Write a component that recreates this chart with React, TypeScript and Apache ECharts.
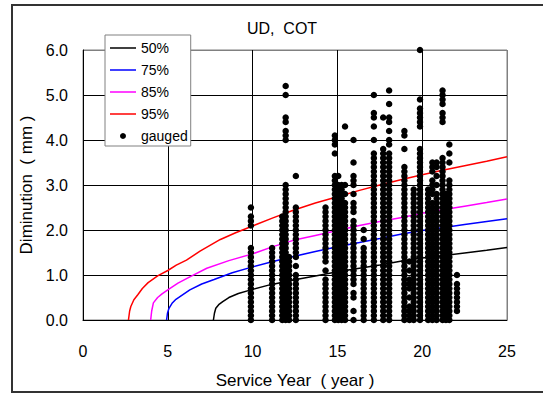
import React, { useEffect, useRef } from "react";
import * as echarts from "echarts";

const FONT = "'Liberation Sans', Arial, sans-serif";

const titleText = "UD,  COT";
const xName = "Service Year  ( year )";
const yName = "Diminution  ( mm )";
const legendNames = ["50%", "75%", "85%", "95%", "gauged"];
const lineColors = ["#000000", "#0000FF", "#FF00FF", "#FF0000"];

// percentile curves: [year, mm]
const curve50 = [[7.69,0],[7.75,0.15],[7.83,0.26],[8.0,0.34],[8.24,0.41],[8.6,0.5],[9.16,0.59],[10,0.68],[11,0.78],[12.4,0.89],[13.7,0.98],[15,1.07],[16.3,1.15],[17.5,1.22],[18.8,1.31],[20,1.38],[21.2,1.43],[22.5,1.49],[23.8,1.55],[25,1.61]];
const curve75 = [[4.93,0],[4.98,0.15],[5.07,0.26],[5.25,0.37],[5.48,0.46],[6.3,0.67],[7.0,0.8],[7.73,0.9],[8.8,1.05],[10,1.18],[11.2,1.3],[12.4,1.41],[13.7,1.52],[15,1.63],[16.3,1.72],[17.5,1.81],[18.8,1.91],[20,1.99],[21.2,2.05],[22.5,2.12],[23.8,2.19],[25,2.25]];
const curve85 = [[3.99,0],[4.05,0.2],[4.15,0.38],[4.4,0.5],[4.66,0.58],[5,0.67],[5.6,0.82],[6.3,0.96],[7.3,1.15],[8.6,1.32],[10,1.47],[11.2,1.63],[12.4,1.77],[13.7,1.88],[15,1.99],[16.3,2.1],[17.5,2.19],[18.8,2.28],[20,2.37],[21.2,2.45],[22.5,2.53],[23.8,2.61],[25,2.69]];
const curve95 = [[2.68,0],[2.75,0.2],[2.82,0.3],[3.0,0.45],[3.23,0.56],[3.5,0.7],[3.84,0.83],[4.4,0.98],[5,1.1],[5.5,1.22],[6.1,1.33],[6.9,1.53],[8.1,1.79],[9,1.94],[10,2.09],[11.2,2.27],[12.4,2.44],[13.7,2.6],[15,2.74],[16.3,2.88],[17.5,3.0],[18.8,3.12],[20,3.23],[21.2,3.33],[22.5,3.43],[23.8,3.53],[25,3.63]];

// gauged readings: column year and readings in tenths of a mm
const gaugedYears = [9.9, 11.15, 11.75, 11.95, 12.15, 12.55, 14.3, 14.85, 15.05, 15.25, 15.45, 15.95, 16.55, 17.15, 17.7, 18.05, 18.95, 19.25, 19.5, 19.87, 20.35, 20.6, 20.85, 21.2, 21.4, 21.6, 22.05];
const gaugedTenths = [
  [25,23,22,21,16,15,14,13,12,11,10,9,8,7,6,5,4,3,2,1,0],
  [16,15,14,13,12,11,10,9,8,7,6,5,4,3,2,1,0],
  [23,22,21,20,19,18,17,16,15,14,13,12,11,10,9,8,7,6,5,4,3,2,1,0],
  [52,50,45,44,42,41,40,30,29,28,27,26,25,24,23,22,21,20,19,18,17,16,15,14,13,12,11,10,9,8,7,6,5,4,3,2,1,0],
  [14,13,12,11,10,9,8,7,6,5,4,3,2,1,0],
  [32,25,24,23,22,21,20,19,18,17,16,15,14,12,10,9,8,7,6,5,4,3,2,1,0],
  [25,24,23,22,21,20,19,18,17,16,15,14,13,11,9,8,7,6,5,4,3,2,1,0],
  [41,40,39,37,32,31,30,29,28,27,26,25,24,23,22,21,20,19,18,17,16,15,14,13,12,11,10,9,8,7,6,5,4,3,2,1,0],
  [32,30,29,28,27,26,25,24,23,22,21,20,19,18,17,16,15,14,13,12,11,10,9,8,7,6,5,4,3,2,1,0],
  [30,29,28,27,26,25,24,23,22,21,20,19,18,17,16,15,14,13,12,11,10,9,8,7,6,5,4,3,2,1,0],
  [43,30,28,26,25,24,23,22,21,20,19,18,17,16,15,14,13,12,11,10,9,8,7,6,5,4,3,2,1,0],
  [40,35,32,31,30,28,26,25,24,22,21,20,19,18,17,16,15,14,13,12,11,10,9,8,6,5,2,0],
  [20,18,16,15,14,13,12,11,10,9,8,7,6,5,4,3,2,1,0],
  [50,46,45,43,40,37,36,35,34,33,32,31,30,29,28,27,26,25,24,23,22,21,20,19,18,17,16,15,14,13,12,11,10,9,8,7,6,5,4,3,2,1,0],
  [45,38,37,36,35,34,33,32,31,30,29,28,27,26,25,24,23,22,21,20,19,18,17,16,15,14,13,12,11,10,9,8,7,6,5,4,3,2,1,0],
  [51,48,45,44,42,40,39,37,36,35,34,33,32,31,30,29,28,27,26,25,24,23,22,21,20,19,18,17,16,15,14,13,12,11,10,9,8,7,6,5,4,3,2,1,0],
  [42,41,38,34,33,32,31,30,29,28,27,26,25,24,23,22,21,20,19,18,17,16,15,14,13,12,11,10,9,8,7,6,5,4,3,2,1,0],
  [13,11,9,8,7,5,3,2,1,0],
  [29,28,27,26,25,24,23,22,21,20,19,18,17,16,15,14,13,12,11,10,9,8,7,6,5,4,3,2,1,0],
  [60,49,47,46,45,44,43,38,37,36,35,34,33,32,31,30,29,28,27,26,25,24,23,22,21,20,19,18,17,16,15,14,13,12,11,10,9,8,7,6,5,4,3,2,1,0],
  [29,28,27,26,25,24,23,22,21,20,19,18,17,16,15,14,13,12,11,10,9,8,7,6,5,4,3,2,1,0],
  [35,34,33,31,30,29,28,26,25,24,23,22,21,20,19,18,17,16,15,14,13,12,11,10,9,8,7,6,5,4,3,2,1,0],
  [35,34,32,30,28,27,26,25,24,23,22,21,20,19,18,17,16,15,14,13,12,11,10,9,8,7,6,5,4,3,2,1,0],
  [51,50,49,48,46,45,44,36,35,34,33,32,31,30,29,28,27,26,25,24,23,22,21,20,19,18,17,16,15,14,13,12,11,10,9,8,7,6,5,4,3,2,1,0],
  [28,27,26,25,24,23,22,21,20,19,18,17,16,15,14,13,12,11,10,9,8,7,6,5,4,3,2,1,0],
  [39,37,35,31,30,29,28,27,26,25,24,23,22,21,20,19,18,17,16,15,14,13,12,11,10,9,8,7,6,5,4,3,2,1,0],
  [10,8,7,6,5,4,3,2],
];

const LINE_ICON = "path://M0,0 H52 V3 H0 Z";

export default function App() {
  const ref = useRef<HTMLDivElement>(null);
  useEffect(() => {
    document.body.style.margin = "0";
    const chart = echarts.init(ref.current!, null, { renderer: "svg" });
    const gauged: number[][] = [];
    gaugedYears.forEach((x, i) => {
      gaugedTenths[i].forEach((t) => gauged.push([x, t / 10]));
    });
    const curves = [curve50, curve75, curve85, curve95];
    const lineSeries = curves.map((c, i) => ({
      name: legendNames[i],
      type: "line",
      data: c,
      symbol: "none",
      showSymbol: false,
      smooth: false,
      z: 2,
      lineStyle: { color: lineColors[i], width: 1.5 },
      itemStyle: { color: lineColors[i] },
    }));
    chart.setOption({
      animation: false,
      textStyle: { fontFamily: FONT },
      title: {
        text: titleText,
        left: 282,
        top: 20,
        textAlign: "center",
        padding: 0,
        textStyle: { fontSize: 16, fontWeight: "normal", color: "#000", fontFamily: FONT },
      },
      grid: {
        left: 83, right: 36, top: 50, bottom: 74,
        show: true, borderColor: "#808080", borderWidth: 1, backgroundColor: "transparent",
      },
      legend: {
        orient: "vertical",
        left: 105,
        top: 35,
        padding: [6, 3, 3, 5],
        itemWidth: 26,
        itemHeight: 6,
        itemGap: 8,
        backgroundColor: "#fff",
        borderColor: "#808080",
        borderWidth: 1,
        textStyle: { fontSize: 14, color: "#000", fontFamily: FONT },
        data: [
          { name: "50%", icon: LINE_ICON, itemStyle: { color: lineColors[0] } },
          { name: "75%", icon: LINE_ICON, itemStyle: { color: lineColors[1] } },
          { name: "85%", icon: LINE_ICON, itemStyle: { color: lineColors[2] } },
          { name: "95%", icon: LINE_ICON, itemStyle: { color: lineColors[3] } },
          { name: "gauged", icon: "circle", itemStyle: { color: "#000", opacity: 1 } },
        ],
      },
      xAxis: {
        type: "value",
        min: 0, max: 25, interval: 5,
        name: xName,
        nameLocation: "middle",
        nameGap: 52,
        nameTextStyle: { fontSize: 17, color: "#000", fontFamily: FONT },
        axisLine: { show: true, lineStyle: { color: "#000", width: 1 } },
        axisTick: { show: false },
        axisLabel: { fontSize: 16, color: "#000", margin: 23, fontFamily: FONT },
        splitLine: { show: true, lineStyle: { color: ["#808080", "#000", "#000", "#000", "#000", "#808080"], width: 1 } },
      },
      yAxis: {
        type: "value",
        min: 0, max: 6, interval: 1,
        name: yName,
        nameLocation: "middle",
        nameGap: 47,
        nameTextStyle: { fontSize: 17, color: "#000", fontFamily: FONT },
        axisLine: { show: true, lineStyle: { color: "#000", width: 1 } },
        axisTick: { show: false },
        axisLabel: { fontSize: 16, color: "#000", margin: 15, fontFamily: FONT, formatter: (v: number) => v.toFixed(1) },
        splitLine: { show: true, lineStyle: { color: ["#000", "#000", "#000", "#000", "#000", "#000", "#808080"], width: 1 } },
      },
      graphic: [
        {
          type: "rect",
          silent: true,
          z: -10,
          shape: { x: 12, y: 5, width: 600, height: 387 },
          style: { fill: "none", stroke: "#333", lineWidth: 2 },
        },
      ],
      series: [
        ...lineSeries,
        {
          name: "gauged",
          type: "scatter",
          data: gauged,
          symbol: "circle",
          symbolSize: 6.5,
          z: 3,
          itemStyle: { color: "#000", opacity: 1 },
        },
      ],
    });
    return () => chart.dispose();
  }, []);
  return <div ref={ref} style={{ width: 543, height: 394 }} />;
}
